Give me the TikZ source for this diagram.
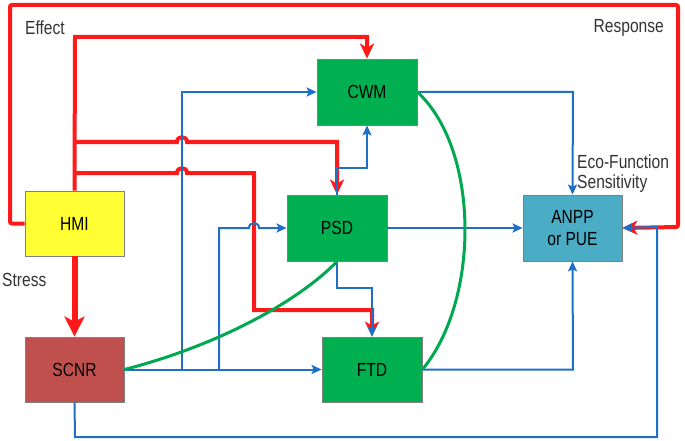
\documentclass[tikz,border=0pt]{standalone}
\usepackage{fontspec}
\setmainfont{Liberation Sans}[FakeStretch=0.82]
\usetikzlibrary{arrows.meta}
\definecolor{rl}{HTML}{FF1A1A}
\definecolor{bl}{HTML}{1F6FC6}
\definecolor{gl}{HTML}{00A850}
\definecolor{boxg}{HTML}{00B050}
\definecolor{boxy}{HTML}{FFFF33}
\definecolor{boxr}{HTML}{C0504D}
\definecolor{boxc}{HTML}{4BACC6}
\definecolor{brd}{HTML}{7F7F7F}
\tikzset{
  box/.style={draw=brd,line width=0.8pt,minimum width=99pt,minimum height=65pt,inner sep=0pt,align=center,font=\fontsize{19}{22}\selectfont},
  redline/.style={draw=rl,line width=4pt},
  redtip/.style={-{Stealth[length=15pt,width=14pt,inset=4pt]}},
  blueline/.style={draw=bl,line width=2pt,-{Stealth[length=10pt,width=9pt,inset=2pt]}},
  greenline/.style={draw=gl,line width=3pt},
  lbl/.style={font=\fontsize{19}{22}\selectfont,text=black!80,inner sep=0pt}
}
\begin{document}
\begin{tikzpicture}[x=1pt,y=-1pt]
\useasboundingbox (0,0) rectangle (685,441);
% nodes
\node[box,fill=boxy] (hmi) at (74.5,223.5) {HMI};
\node[box,fill=boxr] (scnr) at (74.5,369.5) {SCNR};
\node[box,fill=boxg,minimum width=100pt,minimum height=66pt] (cwm) at (367,92) {CWM};
\node[box,fill=boxg,minimum width=100pt,minimum height=66pt] (psd) at (337,228) {PSD};
\node[box,fill=boxg,minimum width=100pt] (ftd) at (372,369.5) {FTD};
\node[box,fill=boxc,minimum height=66pt] (anpp) at (572.5,228) {ANPP\\or PUE};
% labels
\node[lbl,anchor=west] (effect) at (25,28) {Effect};
\node[lbl,anchor=east] (response) at (664,28) {Response};
\node[lbl,anchor=west] (eco) at (577,162) {Eco-Function};
\node[lbl,anchor=west] (sens) at (577,184) {Sensitivity};
\node[lbl,anchor=west] (stress) at (2,280) {Stress};
% coordinates
\coordinate (rb1) at (75,142);
\coordinate (rb2) at (75,173);
\coordinate (sb1) at (182,369.5);
\coordinate (sb2) at (219,369.5);
% red connectors
\draw[redline,redtip,rounded corners=2pt] (hmi.west) -- (10,223.5) -- (10,5) -- (678,5) -- (678,227) -- (anpp.east);
\draw[redline,redtip] (hmi.north) -- (75,37) -- (367,37) -- (cwm.north);
\draw[redline,redtip] (rb1) -- (177,142) .. controls (177,135.5) and (187,135.5) .. (187,142) -- (337,142) -- (psd.north);
\draw[redline,redtip] (rb2) -- (177,173) .. controls (177,166.5) and (187,166.5) .. (187,173) -- (254,173) -- (254,310) -- (372,310) -- (ftd.north);
\draw[draw=rl,line width=6pt,-{Stealth[length=20pt,width=20pt,inset=5pt]}] (hmi.south) -- (scnr.north);
% blue connectors
\draw[blueline] (scnr.east) -- (ftd.west);
\draw[blueline] (sb1) -- (182,92) -- (cwm.west);
\draw[blueline] (sb2) -- (219,228) -- (249,228) .. controls (249,221.5) and (259,221.5) .. (259,228) -- (psd.west);
\draw[blueline] (psd.north) -- (337,168) -- (367,168) -- (cwm.south);
\draw[blueline] (psd.south) -- (337,288) -- (372,288) -- (ftd.north);
\draw[blueline] (psd.east) -- (anpp.west);
\draw[blueline] (cwm.east) -- (573,92) -- (anpp.north);
\draw[blueline] (ftd.east) -- (573,369.5) -- (anpp.south);
\draw[blueline] (scnr.south) -- (75,437) -- (657,437) -- (657,227) -- (anpp.east);
% green curves
\draw[greenline] (scnr.east) .. controls (220,345) and (300,300) .. (psd.south);
\draw[greenline] (cwm.east) .. controls (480,150) and (480,300) .. (ftd.east);
\end{tikzpicture}
\end{document}
